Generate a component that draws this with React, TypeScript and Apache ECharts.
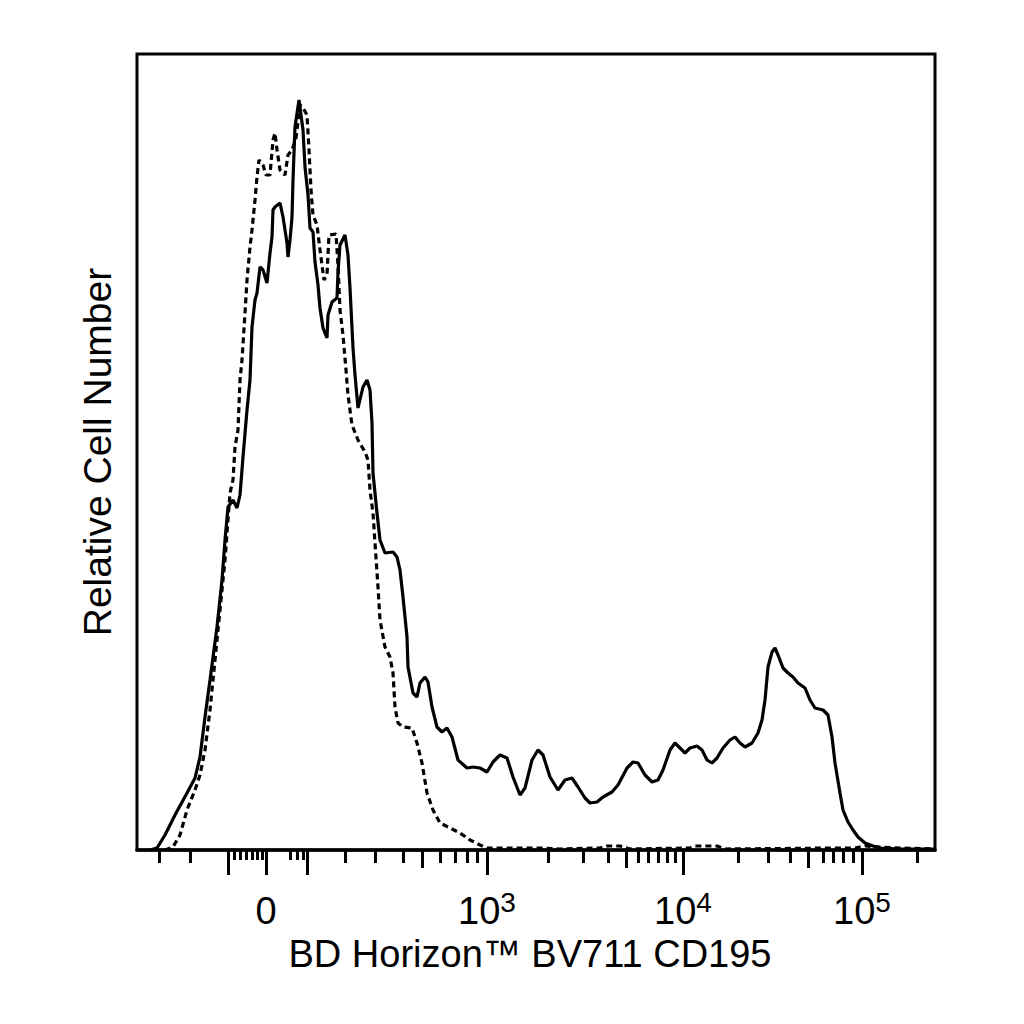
import { useEffect, useRef } from 'react';
import * as echarts from 'echarts';

// display scale (channel units) : 0 .. 798 across the plot, counts 0 .. 796
const X_MAX = 798;
const Y_MAX = 796;

// solid histogram (stained)
const solidCurve: number[][] = [
  [13, 0], [20, 2], [28, 15], [38, 35], [50, 57], [58, 72], [63, 93], [68, 133],
  [73, 170], [80, 223], [85, 270], [88, 310], [91, 343], [96, 350], [100, 342],
  [103, 355], [106, 393], [110, 440], [113, 470], [115, 523], [118, 550], [120, 557],
  [123, 583], [126, 580], [130, 567], [133, 597], [135, 613], [136, 640], [138, 643],
  [143, 647], [146, 633], [150, 607], [151, 593], [153, 610], [155, 633], [156, 670],
  [157, 697], [158, 723], [162, 750], [166, 720], [168, 683], [171, 655], [173, 622],
  [176, 618], [178, 588], [181, 565], [183, 542], [186, 522], [190, 512], [191, 535],
  [195, 548], [200, 552], [201, 578], [203, 605], [208, 615], [211, 595], [213, 562],
  [216, 502], [218, 475], [221, 442], [226, 463], [230, 470], [233, 460], [235, 427],
  [236, 377], [240, 337], [243, 310], [248, 297], [256, 298], [260, 293], [263, 280],
  [266, 253], [270, 213], [271, 183], [276, 157], [280, 153], [283, 167], [288, 173],
  [291, 168], [295, 143], [300, 123], [305, 118], [310, 122], [315, 113], [321, 90],
  [330, 82], [336, 83], [343, 82], [350, 78], [356, 88], [363, 95], [370, 92],
  [376, 73], [383, 55], [388, 62], [395, 90], [401, 100], [406, 95], [413, 73],
  [421, 60], [428, 70], [435, 72], [441, 63], [448, 52], [453, 47], [460, 48],
  [466, 53], [475, 58], [481, 65], [490, 82], [496, 88], [501, 87], [508, 75],
  [515, 68], [521, 70], [526, 80], [533, 100], [538, 107], [543, 102], [548, 97],
  [553, 102], [560, 104], [565, 100], [570, 90], [575, 87], [580, 92], [586, 102],
  [593, 110], [598, 113], [603, 107], [608, 103], [615, 107], [621, 117], [625, 130],
  [628, 150], [631, 183], [635, 198], [638, 202], [641, 195], [646, 182], [651, 177],
  [656, 173], [661, 167], [668, 162], [673, 150], [678, 142], [686, 140], [691, 135],
  [695, 113], [698, 87], [703, 57], [706, 40], [711, 28], [716, 20], [721, 13],
  [728, 7], [736, 4], [743, 2], [763, 1], [798, 1],
];

// dashed histogram (isotype control)
const dashedCurve: number[][] = [
  [28, 0], [36, 3], [43, 15], [50, 40], [58, 60], [63, 75], [68, 100], [73, 140],
  [78, 190], [83, 240], [88, 290], [91, 330], [93, 357], [96, 370], [98, 403],
  [101, 420], [103, 470], [105, 490], [108, 537], [110, 570], [113, 603], [115, 620],
  [118, 650], [120, 673], [122, 690], [126, 685], [129, 675], [133, 675], [136, 710],
  [138, 717], [140, 700], [143, 680], [148, 675], [151, 695], [155, 700], [159, 712],
  [163, 745], [166, 742], [170, 735], [172, 700], [174, 660], [176, 635], [180, 625],
  [183, 600], [187, 570], [190, 575], [192, 615], [199, 616], [201, 585], [203, 540],
  [206, 515], [209, 480], [211, 455], [215, 425], [221, 410], [228, 398], [231, 390],
  [233, 360], [236, 337], [238, 307], [241, 263], [243, 230], [248, 203], [253, 193],
  [256, 177], [258, 143], [261, 127], [266, 123], [275, 122], [280, 107], [285, 87],
  [290, 57], [296, 40], [303, 27], [313, 22], [323, 17], [333, 10], [343, 5],
  [350, 2], [403, 2], [423, 1], [463, 2], [470, 4], [483, 4], [493, 1], [553, 2],
  [558, 4], [580, 4], [588, 1], [703, 2], [718, 2], [728, 4], [743, 3], [763, 2],
  [798, 1],
];

// tick positions on the display scale
const majorTicks = [91, 129, 170, 350, 546, 725];
const midTicks = [285, 489, 671];
const minorTicks = [
  22, 53, 208, 238, 266, 303, 318, 330, 340, 411, 446, 471, 501, 511, 521, 530, 538,
  601, 631, 653, 686, 696, 706, 716, 780,
];
const tinyTicks = [97, 103, 109, 115, 120, 125, 153, 160, 166];

// decade labels
const labelPositions = [129, 350, 546, 725];
const labelTexts = ['{b|0}', '{b|10}{s|3}', '{b|10}{s|4}', '{b|10}{s|5}'];

const FONT = 'Liberation Sans, Arial, sans-serif';

const App = () => {
  const chartRef = useRef<HTMLDivElement>(null);

  useEffect(() => {
    if (!chartRef.current) return;
    const chart = echarts.init(chartRef.current, null, { renderer: 'svg' });

    const tickAxis = (values: number[], length: number) => ({
      type: 'value',
      gridIndex: 0,
      position: 'bottom',
      min: 0,
      max: X_MAX,
      axisLine: { show: false },
      splitLine: { show: false },
      axisLabel: { show: false },
      axisTick: {
        show: true,
        customValues: values,
        length,
        lineStyle: { color: '#000', width: 3 },
      },
    });

    const option = {
      animation: false,
      backgroundColor: '#fff',
      grid: {
        left: 137,
        top: 54,
        width: 798,
        height: 796,
        show: true,
        borderColor: '#000',
        borderWidth: 3,
        backgroundColor: 'transparent',
      },
      xAxis: [
        {
          type: 'value',
          min: 0,
          max: X_MAX,
          position: 'bottom',
          axisLine: { show: true, lineStyle: { color: '#000', width: 3.5 } },
          axisTick: { show: false },
          splitLine: { show: false },
          axisLabel: {
            customValues: labelPositions,
            margin: 38,
            formatter: (v: number) => labelTexts[labelPositions.indexOf(v)] ?? '',
            rich: {
              b: {
                fontSize: 38,
                fontFamily: FONT,
                color: '#000',
                lineHeight: 42,
                verticalAlign: 'bottom',
              },
              s: {
                fontSize: 28,
                fontFamily: FONT,
                color: '#000',
                lineHeight: 26,
                verticalAlign: 'top',
              },
            },
          },
          name: 'BD Horizon™ BV711 CD195',
          nameLocation: 'middle',
          nameGap: 82,
          nameTextStyle: {
            fontSize: 38,
            fontFamily: FONT,
            color: '#000',
            padding: [0, 12, 0, 0],
          },
        },
        tickAxis(majorTicks, 25),
        tickAxis(midTicks, 18),
        tickAxis(minorTicks, 13),
        tickAxis(tinyTicks, 10),
      ],
      yAxis: {
        type: 'value',
        min: 0,
        max: Y_MAX,
        axisLine: { show: false },
        axisTick: { show: false },
        axisLabel: { show: false },
        splitLine: { show: false },
        name: 'Relative Cell Number',
        nameLocation: 'middle',
        nameGap: 20,
        nameTextStyle: {
          fontSize: 39,
          fontFamily: FONT,
          color: '#000',
        },
      },
      series: [
        {
          name: 'solid',
          type: 'line',
          xAxisIndex: 0,
          data: solidCurve,
          showSymbol: false,
          symbol: 'none',
          lineStyle: { color: '#000', width: 3.2, type: 'solid' },
        },
        {
          name: 'dashed',
          type: 'line',
          xAxisIndex: 0,
          data: dashedCurve,
          showSymbol: false,
          symbol: 'none',
          lineStyle: { color: '#000', width: 3.2, type: [6, 4] },
        },
      ],
    };

    chart.setOption(option as any);

    return () => {
      chart.dispose();
    };
  }, []);

  return (
    <div
      ref={chartRef}
      style={{ position: 'absolute', left: 0, top: 0, width: 1024, height: 1024, background: '#fff' }}
    />
  );
};

export default App;
